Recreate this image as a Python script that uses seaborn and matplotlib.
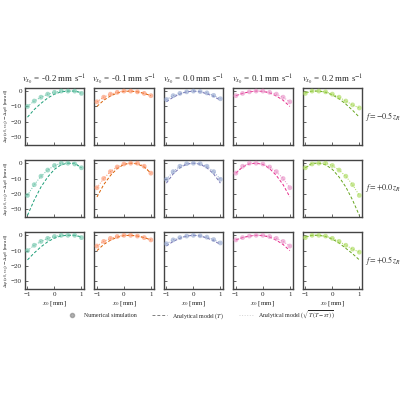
import matplotlib
matplotlib.use("Agg")
import matplotlib.pyplot as plt
import seaborn as sns
import numpy as np
import pandas as pd
from matplotlib.lines import Line2D

sns.set_theme(style="ticks")
plt.rcParams['font.family'] = ['Liberation Serif', 'DejaVu Serif']
plt.rcParams['mathtext.fontset'] = 'stix'

x0 = [-1, -0.75, -0.5, -0.25, 0, 0.25, 0.5, 0.75, 1]
velocities = ["-0.2", "-0.1", "0.0", "0.1", "0.2"]
focus = ["-0.5", "+0.0", "+0.5"]

sim_row1 = [[-10, -6.5, -4, -2, -0.8, 0, 0, 0, -1.5],
            [-7, -4, -2, -0.8, 0, 0, -0.5, -1.5, -3],
            [-5.5, -3, -1.5, -0.5, 0, -0.3, -1.2, -2.8, -5],
            [-3, -1.5, -0.5, 0, 0, -0.8, -2, -4, -7],
            [-1.5, 0, 0, -0.5, -2, -4, -6.5, -9, -11]]
T_row1 = [[-17, -12, -8, -4.5, -2, -0.5, 0, 0, -1],
          [-10, -6, -3.2, -1.3, -0.2, 0, -0.5, -1.5, -3],
          [-7, -4, -2, -0.5, 0, -0.5, -1.8, -3.5, -6],
          [-3, -1.5, -0.5, 0, -0.2, -1.2, -3.2, -6, -10],
          [-1, 0, 0, -0.8, -2.5, -5, -8.5, -12.5, -17]]
sim_row2 = [[-21, -14, -8.5, -4.5, -1.5, 0, 0, -0.5, -3],
            [-16, -10, -5.5, -2.5, -0.5, 0, 0, -2, -6.5],
            [-10.5, -5.5, -2, -0.3, 0, -0.3, -2, -5.5, -10.5],
            [-6.5, -2, 0, 0, -0.5, -2.5, -5.5, -10, -16],
            [-3, -0.5, 0, 0, -1.5, -4.5, -8.5, -14, -21]]
T_row2 = [[-34, -24, -15.5, -9, -4, -1, 0, 0, -3],
          [-22, -14, -8, -3.5, -0.8, 0, -0.5, -2.5, -6.5],
          [-13, -7, -3, -0.7, 0, -0.7, -3, -7, -13],
          [-6.5, -2.5, -0.5, 0, -0.8, -3.5, -8, -14, -22],
          [-3, 0, 0, -1, -4, -9, -15.5, -24, -34]]
sim_row3 = [[-10, -6.5, -4, -2, -0.8, 0, 0, 0, -1.5],
            [-7, -4, -2, -0.8, 0, 0, -0.5, -1.5, -3],
            [-5.5, -3, -1.5, -0.5, 0, -0.3, -1.2, -2.8, -5],
            [-3, -1.5, -0.5, 0, 0, -0.8, -2, -4, -7],
            [-1.5, 0, 0, -0.5, -2, -4, -6.5, -9, -11]]
T_row3 = [[-16, -11.5, -7.5, -4.2, -1.8, -0.4, 0, 0, -1],
          [-10, -6, -3.2, -1.3, -0.2, 0, -0.5, -1.5, -3],
          [-7, -4, -2, -0.5, 0, -0.5, -1.8, -3.5, -6],
          [-3, -1.5, -0.5, 0, -0.2, -1.2, -3.2, -6, -10],
          [-1, 0, 0, -0.8, -2.5, -5, -8.5, -12, -16]]
sims = [sim_row1, sim_row2, sim_row3]
Ts = [T_row1, T_row2, T_row3]

light = sns.color_palette("Set2", 5)
dark = sns.color_palette("Dark2", 5)

fig, axes = plt.subplots(3, 5, figsize=(4, 4), dpi=100, sharex=True, sharey=True)
fig.subplots_adjust(left=0.062, right=0.905, top=0.78, bottom=0.2775, wspace=0.17, hspace=0.27)

for r in range(3):
    for c in range(5):
        ax = axes[r, c]
        df = pd.DataFrame({"x": x0, "sim": sims[r][c], "T": Ts[r][c]})
        sns.scatterplot(data=df, x="x", y="sim", ax=ax, color=light[c], alpha=0.6,
                        s=12, edgecolor="none", zorder=3)
        sns.lineplot(data=df, x="x", y="sim", ax=ax, color=light[c], lw=0.7,
                     linestyle=":", zorder=2)
        sns.lineplot(data=df, x="x", y="T", ax=ax, color=dark[c], lw=0.7,
                     linestyle=(0, (3, 2)), zorder=2)
        ax.set_xlim(-1.1, 1.1)
        ax.set_ylim(-35, 2)
        ax.set_xticks([-1, 0, 1])
        ax.set_yticks([0, -10, -20, -30])
        ax.tick_params(labelsize=5, length=2, width=0.5, direction="in", pad=2)
        ax.set_xlabel(r"$x_0$ [mm]", fontsize=5, labelpad=1.5)
        ax.xaxis.set_tick_params(labelbottom=(r == 2))
        if c == 0:
            ax.set_ylabel(r"$\Delta\varphi(x_0, v_{x_0}) - \Delta\varphi_0$ [mrad]", fontsize=3.8, labelpad=0)
        else:
            ax.set_ylabel("")
        for s in ax.spines.values():
            s.set_linewidth(1.0)
            s.set_color("#444444")
        if r == 0:
            ax.set_title(r"$v_{x_0}$ = " + velocities[c] + r" mm s$^{-1}$", fontsize=6.5, pad=4)
        if c == 4:
            ax.text(1.05, 0.5, r"$f = " + focus[r] + r"\,z_R$", transform=ax.transAxes,
                    fontsize=5.8, va="center", ha="left")

handles = [Line2D([], [], marker="o", ls="none", color="gray", alpha=0.6, ms=3),
           Line2D([], [], ls=(0, (3, 2)), color="gray", lw=0.7),
           Line2D([], [], ls=":", color="lightgray", lw=0.7)]
labels = ["Numerical simulation", r"Analytical model ($T$)",
          r"Analytical model ($\sqrt{T\,(T - s\tau)}$)"]
fig.legend(handles, labels, loc="center", bbox_to_anchor=(0.5, 0.213), ncol=3,
           fontsize=4.3, frameon=False, columnspacing=2.5, handlelength=2.5)

fig.savefig("out.png", dpi=100)
